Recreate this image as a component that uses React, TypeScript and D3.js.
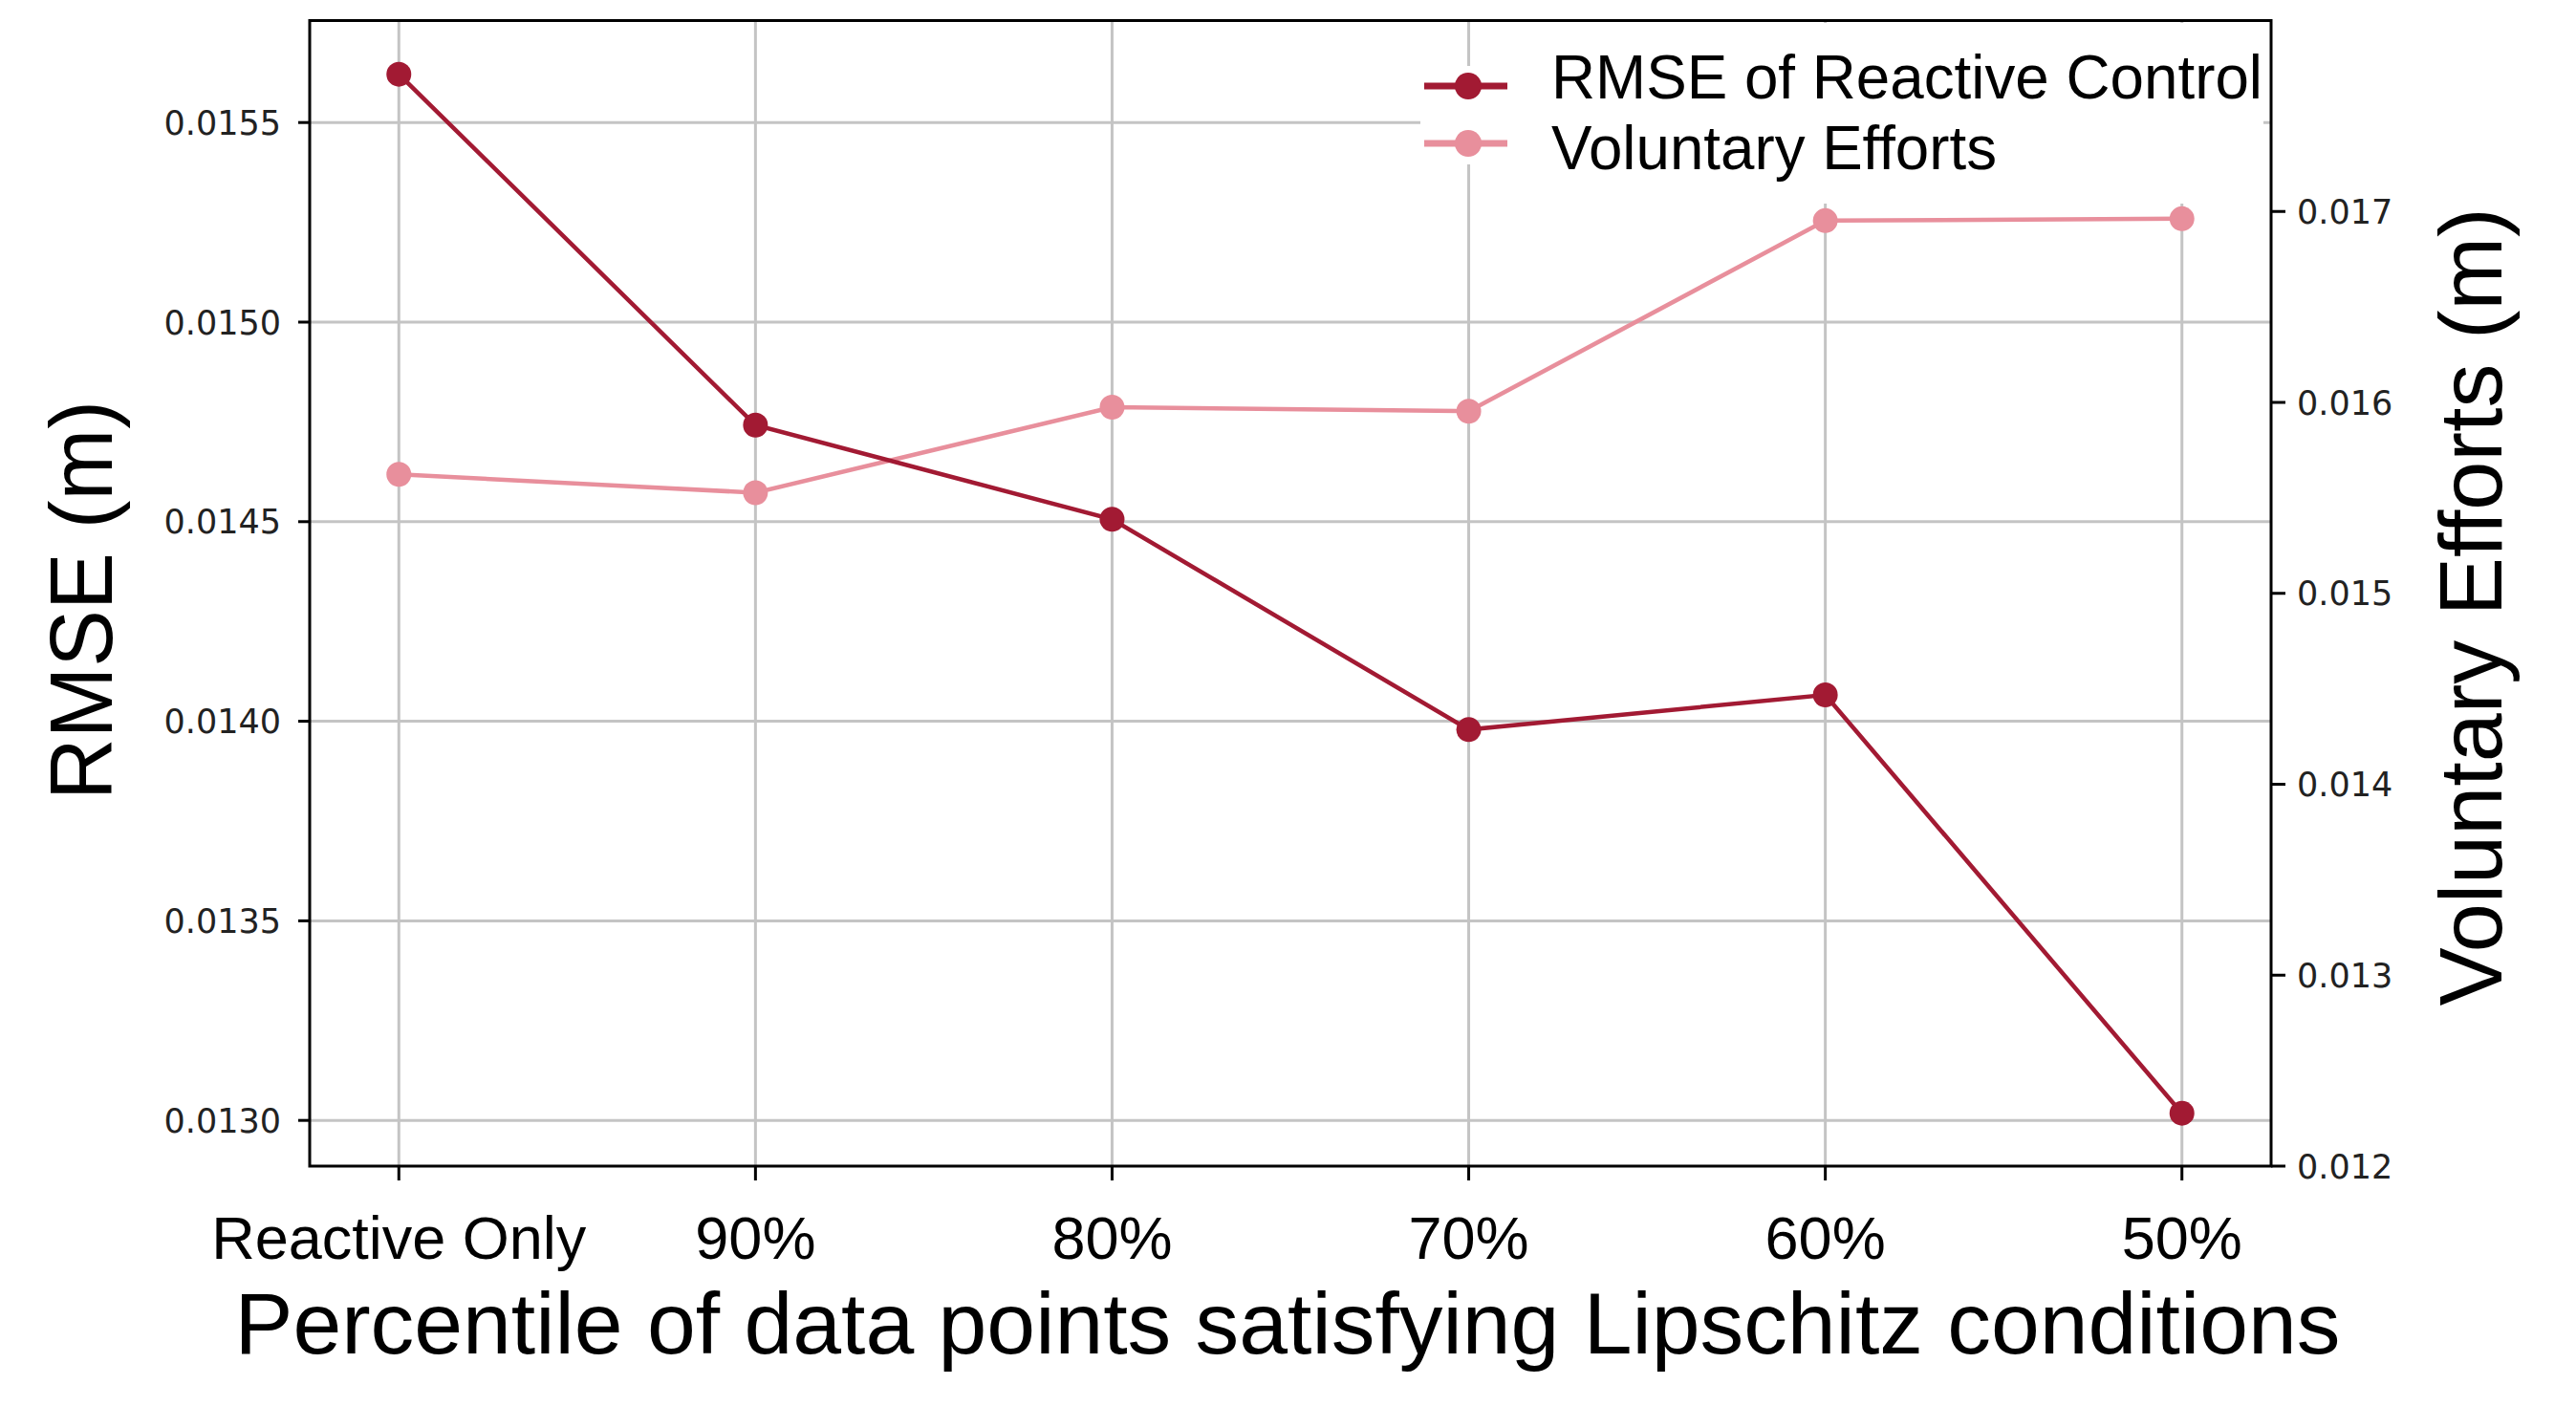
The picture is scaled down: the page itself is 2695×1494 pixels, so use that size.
import * as d3 from 'd3'

const W = 2695
const H = 1494

// chart values
const categories: string[] = ['Reactive Only', '90%', '80%', '70%', '60%', '50%']
const rmseValues: number[] = [0.015621, 0.014742, 0.014506, 0.013979, 0.014066, 0.013018]
const effortValues: number[] = [0.015623, 0.015527, 0.015975, 0.015954, 0.016952, 0.016962]
const leftTicks: number[] = [0.013, 0.0135, 0.014, 0.0145, 0.015, 0.0155]
const rightTicks: number[] = [0.012, 0.013, 0.014, 0.015, 0.016, 0.017]
const seriesNames: string[] = ['RMSE of Reactive Control', 'Voluntary Efforts']

const plot = { left: 324, right: 2376, top: 21.5, bottom: 1220 }
const rmseColor = '#a21a33'
const effortColor = '#e88f9c'
const gridColor = '#c4c4c4'
const tickFont = '"DejaVu Sans", sans-serif'
const labelFont = '"Liberation Sans", Arial, sans-serif'

export default function App() {
  const x = d3.scalePoint<string>()
    .domain(categories)
    .range([plot.left, plot.right])
    .padding(0.25)

  const yLeft = d3.scaleLinear()
    .domain([0.0128855, 0.0157555])
    .range([plot.bottom, plot.top])

  const yRight = d3.scaleLinear()
    .domain([0.012, 0.018])
    .range([plot.bottom, plot.top])

  const rmseLine = d3.line<number>()
    .x((_, i) => x(categories[i]) as number)
    .y(d => yLeft(d))

  const effortLine = d3.line<number>()
    .x((_, i) => x(categories[i]) as number)
    .y(d => yRight(d))

  const fmtLeft = d3.format('.4f')
  const fmtRight = d3.format('.3f')

  return (
    <svg width={W} height={H} viewBox={`0 0 ${W} ${H}`}
      style={{ position: 'absolute', left: 0, top: 0, display: 'block', background: '#fff' }}>
      <rect x={0} y={0} width={W} height={H} fill="#fff" />

      {/* grid */}
      <g stroke={gridColor} strokeWidth={3}>
        {categories.map(c => (
          <line key={c} x1={x(c)} x2={x(c)} y1={plot.top} y2={plot.bottom} />
        ))}
        {leftTicks.map(t => (
          <line key={t} x1={plot.left} x2={plot.right} y1={yLeft(t)} y2={yLeft(t)} />
        ))}
      </g>

      {/* legend backgrounds hiding the grid */}
      <rect x={1486} y={69} width={102} height={103} fill="#fff" />
      <rect x={1588} y={24} width={780} height={189} fill="#fff" />

      {/* series */}
      <path d={effortLine(effortValues) || ''} fill="none" stroke={effortColor} strokeWidth={4.5} />
      {effortValues.map((v, i) => (
        <circle key={i} cx={x(categories[i])} cy={yRight(v)} r={13} fill={effortColor} />
      ))}
      <path d={rmseLine(rmseValues) || ''} fill="none" stroke={rmseColor} strokeWidth={4.5} />
      {rmseValues.map((v, i) => (
        <circle key={i} cx={x(categories[i])} cy={yLeft(v)} r={13} fill={rmseColor} />
      ))}

      {/* spines */}
      <rect x={plot.left} y={plot.top} width={plot.right - plot.left} height={plot.bottom - plot.top}
        fill="none" stroke="#000" strokeWidth={3} />

      {/* left ticks */}
      {leftTicks.map(t => (
        <g key={t}>
          <line x1={plot.left - 12} x2={plot.left} y1={yLeft(t)} y2={yLeft(t)} stroke="#000" strokeWidth={3} />
          <text x={plot.left - 30} y={yLeft(t)} dy="0.36em" textAnchor="end"
            fontFamily={tickFont} fontSize={35} fill="#222">{fmtLeft(t)}</text>
        </g>
      ))}

      {/* right ticks */}
      {rightTicks.map(t => (
        <g key={t}>
          <line x1={plot.right} x2={plot.right + 15} y1={yRight(t)} y2={yRight(t)} stroke="#000" strokeWidth={3} />
          <text x={plot.right + 27} y={yRight(t)} dy="0.36em" textAnchor="start"
            fontFamily={tickFont} fontSize={35} fill="#222">{fmtRight(t)}</text>
        </g>
      ))}

      {/* bottom ticks */}
      {categories.map(c => (
        <g key={c}>
          <line x1={x(c)} x2={x(c)} y1={plot.bottom} y2={plot.bottom + 15} stroke="#000" strokeWidth={3} />
          <text x={x(c)} y={1317} textAnchor="middle" fontFamily={labelFont} fontSize={63} fill="#000">{c}</text>
        </g>
      ))}

      {/* axis titles */}
      <text x={1347} y={1416} textAnchor="middle" fontFamily={labelFont} fontSize={91} fill="#000"
        textLength={2203} lengthAdjust="spacingAndGlyphs">
        Percentile of data points satisfying Lipschitz conditions
      </text>
      <text transform="translate(117,628) rotate(-90)" textAnchor="middle" fontFamily={labelFont}
        fontSize={93} fill="#000" textLength={418} lengthAdjust="spacingAndGlyphs">RMSE (m)</text>
      <text transform="translate(2617,635) rotate(-90)" textAnchor="middle" fontFamily={labelFont}
        fontSize={93} fill="#000" textLength={835} lengthAdjust="spacingAndGlyphs">Voluntary Efforts (m)</text>

      {/* legend */}
      {seriesNames.map((name, i) => {
        const color = i === 0 ? rmseColor : effortColor
        const hy = i === 0 ? 90 : 150
        const ty = i === 0 ? 103 : 177
        return (
          <g key={name}>
            <line x1={1490} x2={1577} y1={hy} y2={hy} stroke={color} strokeWidth={7} />
            <circle cx={1536} cy={hy} r={14} fill={color} />
            <text x={1623} y={ty} fontFamily={labelFont} fontSize={65} fill="#000"
              textLength={i === 0 ? 744 : 466} lengthAdjust="spacingAndGlyphs">{name}</text>
          </g>
        )
      })}
    </svg>
  )
}
